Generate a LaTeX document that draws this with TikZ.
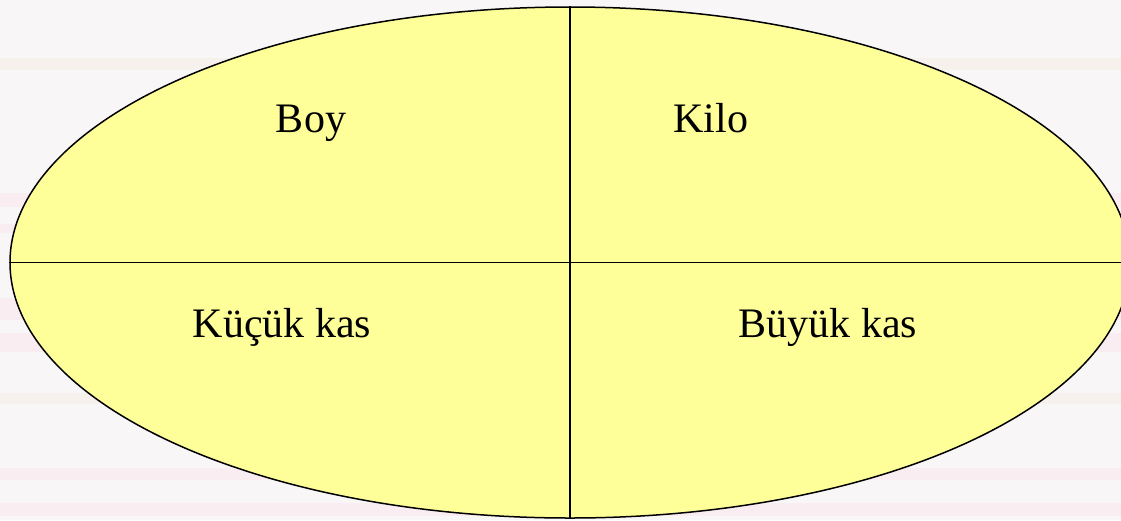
\documentclass[tikz,border=0pt]{standalone}
\usepackage{fontspec}
\setmainfont{Liberation Serif}
\usepackage{xcolor}
\usepackage{tikz}
\usetikzlibrary{shapes.geometric, positioning}
\definecolor{ovalfill}{RGB}{255,255,153}
\definecolor{bgpale}{RGB}{249,246,248}
\definecolor{bgpink}{RGB}{250,237,241}
\definecolor{bgbeige}{RGB}{246,241,236}

\begin{document}
\begin{tikzpicture}[
        x=1pt, y=-1pt,
        every node/.style={font=\fontsize{42}{48}\selectfont, anchor=base},
        oval/.style={draw, ellipse, line width=1.5pt, fill=ovalfill, minimum width=1120pt, minimum height=511pt, inner sep=0pt},
        divider/.style={line width=1.3pt}
    ]
    % background with soft stripes
    \fill[bgpale] (0,0) rectangle (1121,520);
    \foreach \ya/\yb/\c in {58/70/bgbeige, 193/207/bgpink, 224/233/bgpink, 298/320/bgpink, 333/352/bgpink, 393/404/bgbeige, 468/480/bgpink, 503/516/bgpink}
        \fill[\c] (0,\ya) rectangle (1121,\yb);
    \useasboundingbox (0,0) rectangle (1121,520);

    \node[oval, anchor=center] (egg) at (570,262.5) {};
    \draw[divider] (egg.north) -- (egg.south);
    \draw[divider] (egg.west) -- (egg.east);

    \node (boy) at (311,132) {Boy};
    \node (kilo) at (711,132) {Kilo};
    \node (small) at (282,337) {Küçük kas};
    \node (big) at (828,337) {Büyük kas};
\end{tikzpicture}
\end{document}
